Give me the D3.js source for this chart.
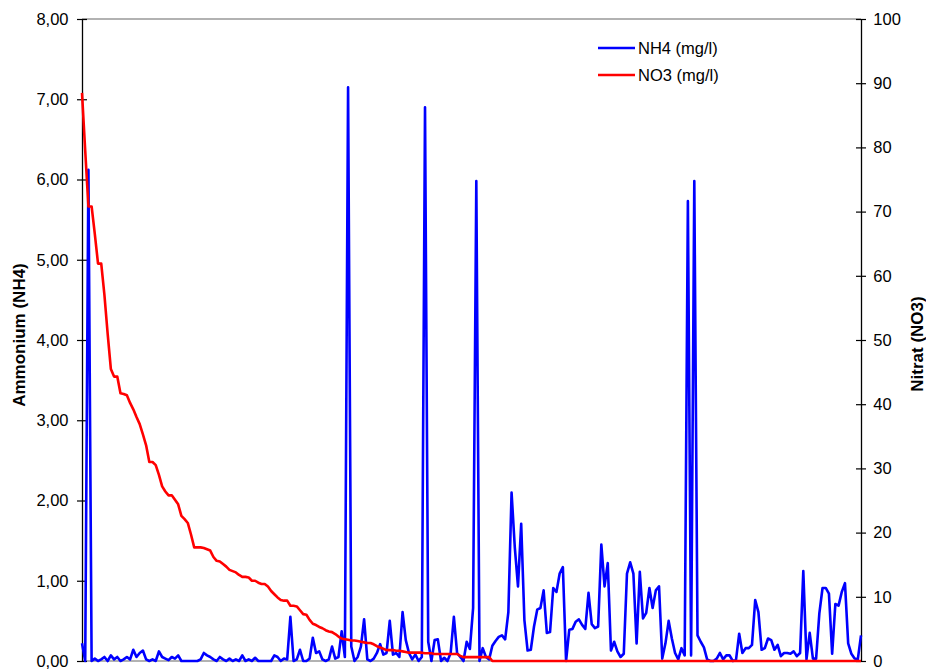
<!DOCTYPE html>
<html>
<head>
<meta charset="utf-8">
<script src="https://cdn.jsdelivr.net/npm/d3@7"></script>
<style>
  html, body { margin: 0; padding: 0; background: #fff; }
  svg { display: block; font-family: "Liberation Sans", Arial, sans-serif; }
</style>
</head>
<body>
<svg id="chart" width="926" height="670"></svg>
<script>
// Ammonium (NH4, mg/l) per sample, left axis
const nh4 = [
  0.22, 0, 6.12, 0, 0.03, 0, 0.02, 0.05, 0, 0.07,
  0.02, 0.05, 0, 0.02, 0.05, 0.02, 0.14, 0.05, 0.10, 0.13,
  0.02, 0, 0.02, 0, 0.12, 0.05, 0.03, 0.01, 0.05, 0.03,
  0.07, 0, 0, 0, 0, 0, 0, 0.02, 0.10, 0.07,
  0.05, 0.02, 0, 0.05, 0.02, 0, 0.03, 0, 0.02, 0,
  0.07, 0, 0.02, 0, 0.04, 0, 0, 0, 0, 0,
  0.07, 0.05, 0, 0.03, 0.02, 0.55, 0, 0.02, 0.14, 0,
  0, 0.03, 0.29, 0.10, 0.12, 0.02, 0, 0.02, 0.18, 0.03,
  0.05, 0.37, 0.05, 7.15, 0.18, 0, 0.05, 0.18, 0.52, 0.02,
  0, 0.03, 0.10, 0.21, 0.08, 0.10, 0.50, 0.08, 0.10, 0.05,
  0.61, 0.26, 0.10, 0.02, 0.08, 0, 0.05, 6.90, 0.24, 0,
  0.26, 0.27, 0, 0.04, 0, 0.10, 0.55, 0.10, 0.05, 0,
  0.24, 0.15, 0.66, 5.98, 0, 0.16, 0.05, 0.02, 0.19, 0.25,
  0.30, 0.32, 0.27, 0.61, 2.10, 1.42, 0.93, 1.71, 0.51, 0.13,
  0.14, 0.43, 0.64, 0.66, 0.88, 0.35, 0.36, 0.91, 0.86, 1.09,
  1.17, 0, 0.39, 0.40, 0.49, 0.52, 0.45, 0.40, 0.85, 0.46,
  0.41, 0.43, 1.45, 0.93, 1.22, 0.13, 0.24, 0.12, 0.05, 0.09,
  1.09, 1.23, 1.09, 0.22, 1.11, 0.53, 0.60, 0.91, 0.66, 0.88,
  0.93, 0.03, 0.22, 0.50, 0.28, 0.10, 0.02, 0.16, 0.07, 5.73,
  0.07, 5.98, 0.32, 0.24, 0.17, 0.02, 0, 0, 0.03, 0.10,
  0.02, 0.07, 0.07, 0, 0.01, 0.34, 0.10, 0.16, 0.16, 0.20,
  0.76, 0.61, 0.14, 0.16, 0.28, 0.26, 0.14, 0.20, 0.06, 0.10,
  0.10, 0.09, 0.12, 0.06, 0.10, 1.12, 0.02, 0.35, 0.03, 0.03,
  0.59, 0.91, 0.91, 0.84, 0.09, 0.71, 0.69, 0.86, 0.97, 0.22,
  0.09, 0.03, 0.02, 0.32
];

// Nitrate (NO3, mg/l) per sample, right axis
const no3 = [
  88.5, 79.5, 70.8, 70.8, 66.5, 61.9, 61.9, 57.0, 51.0, 45.5,
  44.3, 44.3, 41.7, 41.6, 41.4, 40.2, 39.2, 38.0, 36.9, 35.3,
  33.6, 31.0, 31.0, 30.5, 29.0, 27.2, 26.4, 25.8, 25.8, 25.1,
  24.4, 22.6, 22.1, 21.5, 19.7, 17.7, 17.7, 17.7, 17.6, 17.4,
  17.2, 16.2, 15.6, 15.5, 15.1, 14.7, 14.2, 14.0, 13.8, 13.4,
  13.1, 13.1, 13.0, 12.5, 12.5, 12.2, 12.0, 12.0, 11.6, 10.9,
  10.4, 9.9, 9.5, 9.4, 9.4, 8.6, 8.6, 8.5, 7.9, 7.3,
  7.2, 6.4, 5.8, 5.6, 5.3, 5.1, 4.8, 4.6, 4.5, 4.2,
  3.8, 3.5, 3.4, 3.3, 3.2, 3.2, 3.1, 3.0, 2.9, 2.8,
  2.8, 2.6, 2.3, 2.1, 1.9, 1.7, 1.7, 1.7, 1.6, 1.6,
  1.5, 1.4, 1.3, 1.3, 1.3, 1.3, 1.3, 1.2, 1.2, 1.2,
  1.1, 1.1, 1.1, 1.1, 1.1, 1.1, 1.1, 1.1, 0.8, 0.6,
  0.6, 0.6, 0.6, 0.6, 0.6, 0.6, 0.6, 0.6, 0, 0,
  0, 0, 0, 0, 0, 0, 0, 0, 0, 0,
  0, 0, 0, 0, 0, 0, 0, 0, 0, 0,
  0, 0, 0, 0, 0, 0, 0, 0, 0, 0,
  0, 0, 0, 0, 0, 0, 0, 0, 0, 0,
  0, 0, 0, 0, 0, 0, 0, 0, 0, 0,
  0, 0, 0, 0, 0, 0, 0, 0, 0, 0,
  0, 0, 0, 0, 0, 0, 0, 0, 0, 0,
  0, 0, 0, 0, 0, 0, 0, 0, 0, 0,
  0, 0, 0, 0, 0, 0, 0, 0, 0, 0,
  0, 0, 0, 0, 0, 0, 0, 0, 0, 0,
  0, 0, 0, 0, 0, 0, 0, 0, 0, 0,
  0, 0, 0, 0
];

// Axis ticks and legend entries
const leftTicks = [0, 1, 2, 3, 4, 5, 6, 7, 8];
const rightTicks = [0, 10, 20, 30, 40, 50, 60, 70, 80, 90, 100];
const seriesNames = ["NH4 (mg/l)", "NO3 (mg/l)"];
const seriesColors = ["#0000ff", "#ff0000"];
const leftTitle = "Ammonium (NH4)";
const rightTitle = "Nitrat (NO3)";

const plot = { left: 82, right: 861, top: 19, bottom: 661 };
const svg = d3.select("#chart");

const de = d3.formatLocale({ decimal: ",", thousands: ".", grouping: [3], currency: ["", " €"] });
const fmt2 = de.format(".2f");

const x = d3.scaleLinear().domain([0, nh4.length - 1]).range([plot.left, plot.right]);
const yL = d3.scaleLinear().domain([0, 8]).range([plot.bottom, plot.top]);
const yR = d3.scaleLinear().domain([0, 100]).range([plot.bottom, plot.top]);

// top frame line and category axis line
svg.append("line")
  .attr("x1", plot.left).attr("x2", plot.right)
  .attr("y1", yL(8)).attr("y2", yL(8))
  .attr("stroke", "#999").attr("stroke-width", 1.5);
svg.append("line")
  .attr("x1", plot.left).attr("x2", plot.right)
  .attr("y1", yL(0)).attr("y2", yL(0))
  .attr("stroke", "#999").attr("stroke-width", 1.5);

// left value axis
const gL = svg.append("g")
  .attr("transform", `translate(${plot.left},0)`)
  .call(d3.axisLeft(yL).tickValues(leftTicks).tickFormat(fmt2)
    .tickSizeInner(5).tickSizeOuter(0).tickPadding(8.5));
gL.select(".domain").attr("stroke", "#000").attr("stroke-width", 1.3);
gL.selectAll(".tick line").attr("x1", 5).attr("stroke", "#000").attr("stroke-width", 1.2);
gL.selectAll(".tick text").attr("font-size", 16.5).attr("fill", "#000")
  .attr("font-family", "'Liberation Sans', Arial, sans-serif");

// right value axis
const gR = svg.append("g")
  .attr("transform", `translate(${plot.right},0)`)
  .call(d3.axisRight(yR).tickValues(rightTicks).tickFormat(d3.format("d"))
    .tickSizeInner(5).tickSizeOuter(0).tickPadding(7.3));
gR.select(".domain").attr("stroke", "#000").attr("stroke-width", 1.3);
gR.selectAll(".tick line").attr("x1", -5).attr("stroke", "#000").attr("stroke-width", 1.2);
gR.selectAll(".tick text").attr("font-size", 16.5).attr("fill", "#000")
  .attr("font-family", "'Liberation Sans', Arial, sans-serif");

// axis titles
svg.append("text")
  .attr("transform", "translate(25,335) rotate(-90)")
  .attr("text-anchor", "middle")
  .attr("font-size", 17).attr("font-weight", "bold")
  .text(leftTitle);
svg.append("text")
  .attr("transform", "translate(923,344) rotate(-90)")
  .attr("text-anchor", "middle")
  .attr("font-size", 17).attr("font-weight", "bold")
  .text(rightTitle);

// series lines (nitrate drawn on top)
const lineL = d3.line().x((d, i) => x(i)).y(d => yL(d));
const lineR = d3.line().x((d, i) => x(i)).y(d => yR(d));

svg.append("path").datum(nh4)
  .attr("d", lineL)
  .attr("fill", "none").attr("stroke", seriesColors[0])
  .attr("stroke-width", 2.6).attr("stroke-linejoin", "round");
svg.append("path").datum(no3)
  .attr("d", lineR)
  .attr("fill", "none").attr("stroke", seriesColors[1])
  .attr("stroke-width", 2.6).attr("stroke-linejoin", "round");

// legend
const legend = svg.append("g").attr("transform", "translate(598,48)");
seriesNames.forEach((name, k) => {
  const row = legend.append("g").attr("transform", `translate(0,${k * 27})`);
  row.append("line").attr("x1", 0).attr("x2", 37).attr("y1", 0).attr("y2", 0)
    .attr("stroke", seriesColors[k]).attr("stroke-width", 2.6);
  row.append("text").attr("x", 40).attr("y", 0).attr("dy", "0.35em")
    .attr("font-size", 16.5).attr("fill", "#000").text(name);
});
</script>
</body>
</html>
